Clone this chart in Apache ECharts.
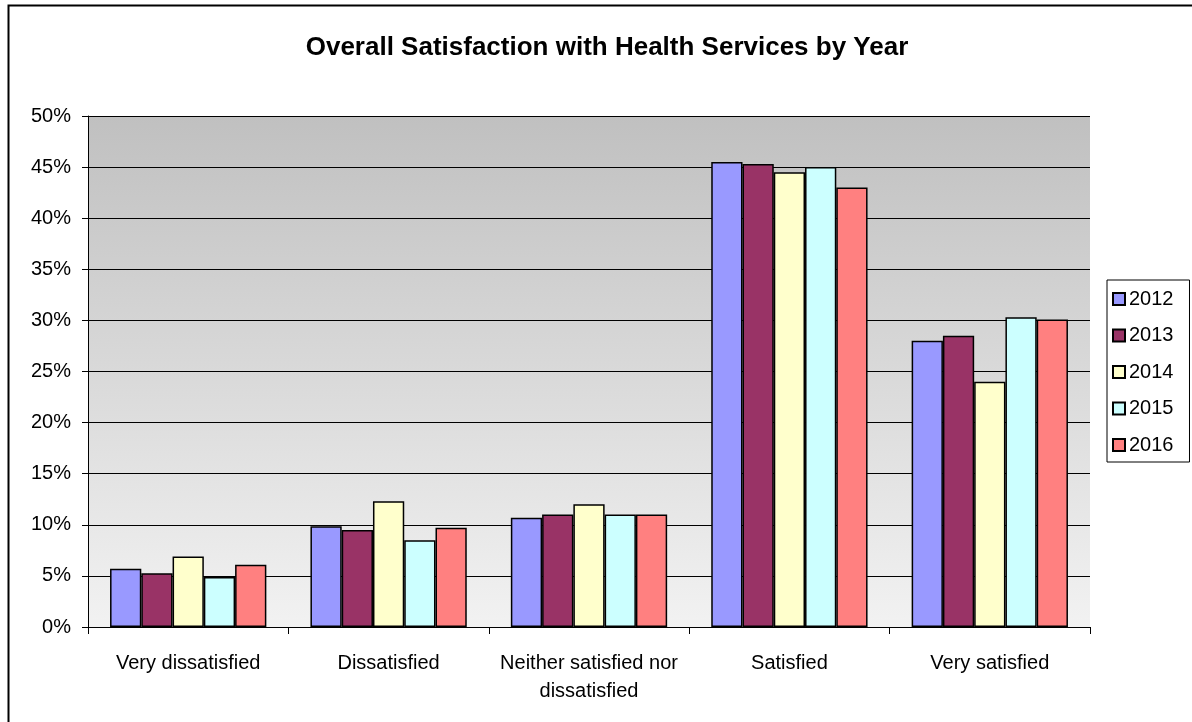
<!DOCTYPE html>
<html><head><meta charset="utf-8">
<script src="https://cdn.jsdelivr.net/npm/echarts@6/dist/echarts.min.js"></script>
<style>html,body{margin:0;padding:0;background:#fff}#c{width:1192px;height:722px}</style>
</head><body><div id="c"></div>
<script>
const categories = ['Very dissatisfied', 'Dissatisfied', 'Neither satisfied nor\ndissatisfied', 'Satisfied', 'Very satisfied'];
const years = ['2012', '2013', '2014', '2015', '2016'];
const v2012 = [5.7, 9.85, 10.7, 45.5, 28.0];
const v2013 = [5.25, 9.5, 11.0, 45.3, 28.5];
const v2014 = [6.9, 12.3, 12.0, 44.5, 24.0];
const v2015 = [4.9, 8.5, 11.0, 45.0, 30.3];
const v2016 = [6.1, 9.7, 11.0, 43.0, 30.1];
const seriesValues = [v2012, v2013, v2014, v2015, v2016];
const colors = ['#9999FF', '#993366', '#FFFFCC', '#CCFFFF', '#FF8080'];

const chart = echarts.init(document.getElementById('c'));
const font = 'Arial, "Liberation Sans", sans-serif';
chart.setOption({
  animation: false,
  title: {
    text: 'Overall Satisfaction with Health Services by Year',
    left: 602, top: 30, textAlign: 'center',
    textStyle: { fontFamily: font, fontSize: 26, fontWeight: 'bold', color: '#000' }
  },
  graphic: [{
    type: 'rect', left: 6, top: 3, shape: { width: 1200, height: 740 },
    style: { fill: 'none', stroke: '#000', lineWidth: 2 }, z: 100
  }],
  legend: {
    orient: 'vertical', left: 1107, top: 280,
    data: years, itemWidth: 12, itemHeight: 12, itemGap: 16.5,
    padding: [9, 16, 7, 5],
    borderColor: '#000', borderWidth: 1,
    textStyle: { fontFamily: font, fontSize: 20, color: '#000', padding: [0, 0, 0, -1] },
    icon: 'rect'
  },
  grid: {
    left: 88, right: 102, top: 116, bottom: 95, show: true,
    borderWidth: 0,
    backgroundColor: new echarts.graphic.LinearGradient(0, 0, 0, 1, [
      { offset: 0, color: '#C0C0C0' }, { offset: 1, color: '#F2F2F2' }
    ])
  },
  xAxis: {
    type: 'category', data: categories,
    axisLine: { lineStyle: { color: '#000', width: 1 } },
    axisTick: { show: true, interval: 0, length: 7, inside: false, lineStyle: { color: '#000' } },
    axisLabel: { interval: 0, fontFamily: font, fontSize: 20, color: '#000', margin: 22, lineHeight: 28 }
  },
  yAxis: {
    type: 'value', min: 0, max: 50, interval: 5,
    axisLine: { show: true, lineStyle: { color: '#000' } },
    axisTick: { show: true, length: 6, lineStyle: { color: '#000' } },
    axisLabel: { fontFamily: font, fontSize: 20, color: '#000', margin: 17, formatter: '{value}%' },
    splitLine: { lineStyle: { color: '#000', width: 1 } }
  },
  series: years.map((y, i) => ({
    name: y, type: 'bar', data: seriesValues[i],
    barGap: '0%', barCategoryGap: '22%',
    itemStyle: { color: colors[i], borderColor: '#000', borderWidth: 1.5 }
  }))
});
</script></body></html>
